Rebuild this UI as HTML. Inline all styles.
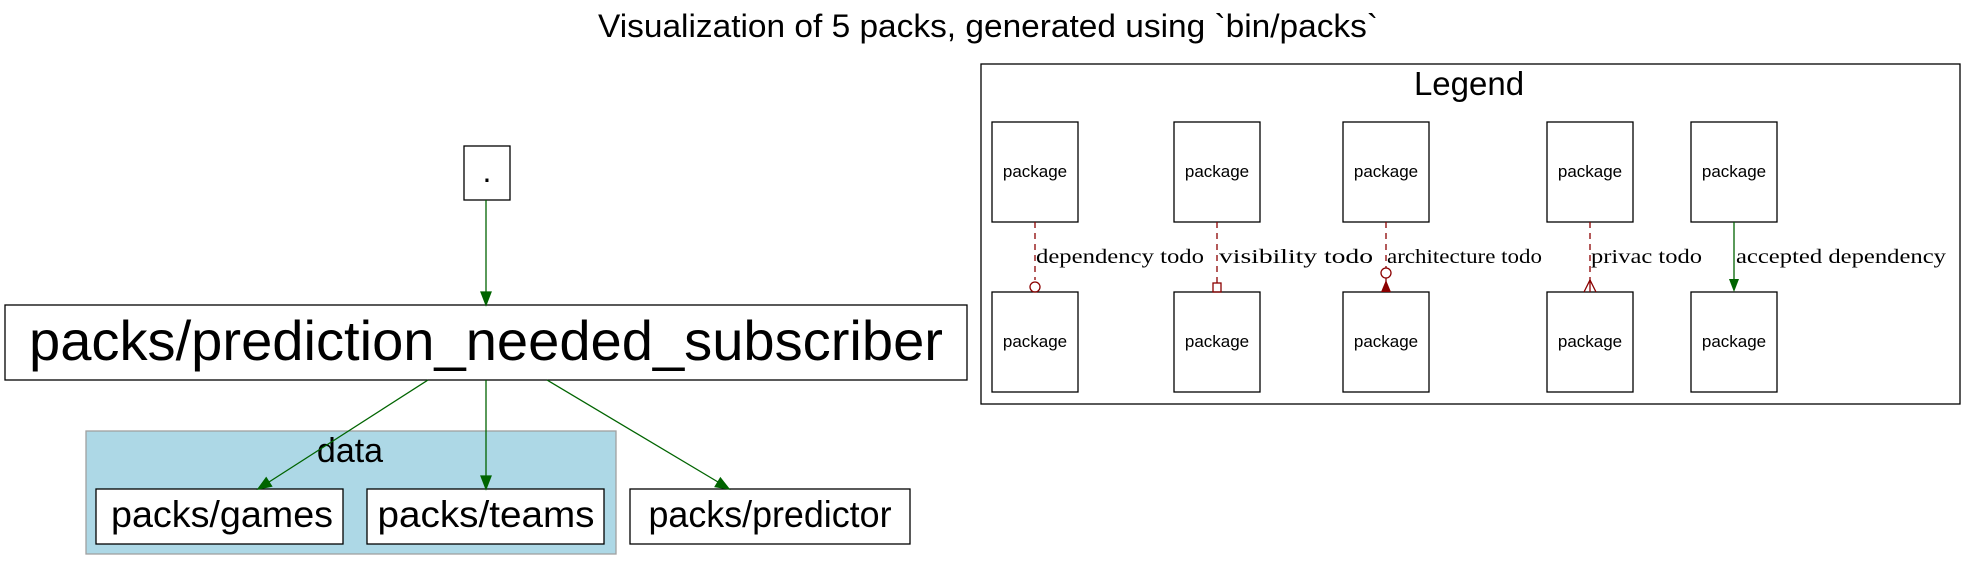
<!DOCTYPE html>
<html><head><meta charset="utf-8"><style>html,body{margin:0;padding:0;background:#fff}svg{display:block}</style></head>
<body>
<svg width="1976" height="571" viewBox="0 0 1976 571" xmlns="http://www.w3.org/2000/svg" font-family="Liberation Sans, sans-serif">
<text x="988" y="37" font-size="32" text-anchor="middle" textLength="780" lengthAdjust="spacingAndGlyphs">Visualization of 5 packs, generated using `bin/packs`</text>
<!-- cluster -->
<rect x="86" y="431" width="530" height="123" fill="#add8e6" stroke="#a0a0a0" stroke-width="1.3"/>
<text x="350" y="462" font-size="34" text-anchor="middle">data</text>
<!-- nodes -->
<rect x="464" y="146" width="46" height="54" fill="#fff" stroke="#000" stroke-width="1.3"/>
<text x="487" y="182" font-size="32" text-anchor="middle">.</text>
<rect x="5" y="305" width="962" height="75" fill="#fff" stroke="#000" stroke-width="1.3"/>
<text x="486" y="360" font-size="56" text-anchor="middle" textLength="914" lengthAdjust="spacingAndGlyphs">packs/prediction_needed_subscriber</text>
<rect x="96" y="489" width="247" height="55" fill="#fff" stroke="#000" stroke-width="1.3"/>
<text x="222" y="527" font-size="37" text-anchor="middle" textLength="222" lengthAdjust="spacingAndGlyphs">packs/games</text>
<rect x="367" y="489" width="237" height="55" fill="#fff" stroke="#000" stroke-width="1.3"/>
<text x="486" y="527" font-size="37" text-anchor="middle" textLength="217" lengthAdjust="spacingAndGlyphs">packs/teams</text>
<rect x="630" y="489" width="280" height="55" fill="#fff" stroke="#000" stroke-width="1.3"/>
<text x="770" y="527" font-size="37" text-anchor="middle" textLength="243" lengthAdjust="spacingAndGlyphs">packs/predictor</text>
<!-- edges -->
<g stroke="#006400" stroke-width="1.3" fill="#006400">
<line x1="486" y1="200" x2="486" y2="293"/><polygon points="481,292 491,292 486,305"/>
<line x1="428" y1="380" x2="269" y2="482"/><polygon points="271.6,486.2 266.2,477.8 258,489"/>
<line x1="547" y1="380" x2="718" y2="482"/><polygon points="715.2,486.6 720.4,478 729,489"/>
<line x1="486" y1="380" x2="486" y2="477"/><polygon points="481,476 491,476 486,489"/>
</g>
<!-- legend -->
<rect x="981" y="64" width="979" height="340" fill="none" stroke="#000" stroke-width="1.3"/>
<text x="1469" y="95" font-size="33" text-anchor="middle">Legend</text>
<g fill="#fff" stroke="#000" stroke-width="1.3">
<rect x="992" y="122" width="86" height="100"/><rect x="1174" y="122" width="86" height="100"/><rect x="1343" y="122" width="86" height="100"/><rect x="1547" y="122" width="86" height="100"/><rect x="1691" y="122" width="86" height="100"/>
<rect x="992" y="292" width="86" height="100"/><rect x="1174" y="292" width="86" height="100"/><rect x="1343" y="292" width="86" height="100"/><rect x="1547" y="292" width="86" height="100"/><rect x="1691" y="292" width="86" height="100"/>
</g>
<g font-size="17" text-anchor="middle">
<text x="1035" y="177">package</text><text x="1217" y="177">package</text><text x="1386" y="177">package</text><text x="1590" y="177">package</text><text x="1734" y="177">package</text>
<text x="1035" y="347">package</text><text x="1217" y="347">package</text><text x="1386" y="347">package</text><text x="1590" y="347">package</text><text x="1734" y="347">package</text>
</g>
<g stroke="#8b0000" stroke-width="1.3" stroke-dasharray="6,5" fill="none">
<line x1="1035" y1="222" x2="1035" y2="280"/>
<line x1="1217" y1="222" x2="1217" y2="283"/>
<line x1="1386" y1="222" x2="1386" y2="268"/>
<line x1="1590" y1="222" x2="1590" y2="282"/>
</g>
<g stroke="#8b0000" stroke-width="1.3" fill="none">
<circle cx="1035" cy="287" r="5"/>
<rect x="1213" y="283" width="8" height="9"/>
<circle cx="1386" cy="273" r="5"/>
<line x1="1386" y1="278" x2="1386" y2="283"/>
<polyline points="1584,292 1590,280 1596,292"/><line x1="1590" y1="280" x2="1590" y2="292"/>
</g>
<polygon points="1381,292 1391,292 1386,280" fill="#8b0000"/>
<line x1="1734" y1="222" x2="1734" y2="280" stroke="#006400" stroke-width="1.3"/>
<polygon points="1729,279 1739,279 1734,292" fill="#006400"/>
<g font-family="Liberation Serif, serif" font-size="20">
<text x="1036" y="263" textLength="168" lengthAdjust="spacingAndGlyphs">dependency todo</text>
<text x="1219" y="263" textLength="154" lengthAdjust="spacingAndGlyphs">visibility todo</text>
<text x="1387" y="263" textLength="155" lengthAdjust="spacingAndGlyphs">architecture todo</text>
<text x="1591" y="263" textLength="111" lengthAdjust="spacingAndGlyphs">privac todo</text>
<text x="1736" y="263" textLength="210" lengthAdjust="spacingAndGlyphs">accepted dependency</text>
</g>
</svg>
</body></html>
